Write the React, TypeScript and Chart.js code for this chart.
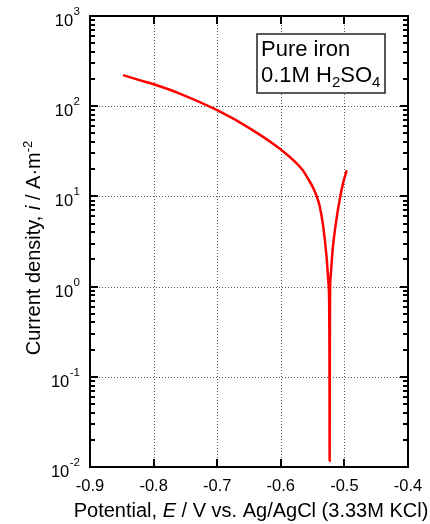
import React, { useEffect, useRef } from "react";
import { Chart, registerables } from "chart.js";

Chart.register(...registerables);

// ---- data ----
const potentialV = [
  -0.848, -0.825, -0.8, -0.76, -0.7, -0.65, -0.6, -0.575, -0.565, -0.557, -0.5495,
  -0.5435, -0.5385, -0.5336, -0.528, -0.5253, -0.524, -0.5235, -0.5232, -0.5229,
  -0.5226, -0.5216, -0.5184, -0.5135, -0.5065, -0.5016, -0.4964,
];
const currentDensity = [
  221, 197, 175, 139, 90.2, 57.5, 33.1, 23.2, 19.3, 15.6, 12.6,
  10, 7.6, 4.8, 2.12, 1.15, 0.7, 0.2, 0.0117, 0.2,
  0.8, 1.3, 2.6, 5.0, 10, 14.5, 19.4,
];
const xTickValues = [-0.9, -0.8, -0.7, -0.6, -0.5, -0.4];
const xTickLabels = ["-0.9", "-0.8", "-0.7", "-0.6", "-0.5", "-0.4"];
const yDecadeExponents = [-2, -1, 0, 1, 2, 3];
const yExponentLabels = ["-2", "-1", "0", "1", "2", "3"];
const legendLine1 = "Pure iron";
const legendLine2 = [
  { t: "0.1M H", sub: false },
  { t: "2", sub: true },
  { t: "SO", sub: false },
  { t: "4", sub: true },
];
const xTitle = [
  { t: "Potential, ", it: false },
  { t: "E", it: true },
  { t: " / V vs. Ag/AgCl (3.33M KCl)", it: false },
];
const yTitle = [
  { t: "Current density, ", it: false, sup: false },
  { t: "i", it: true, sup: false },
  { t: " / A\u00B7m", it: false, sup: false },
  { t: "-2", it: false, sup: true },
];

const FONT = '"Liberation Sans", Arial, sans-serif';

const framePlugin = {
  id: "frame",
  beforeDatasetsDraw(chart: any) {
    const { ctx, chartArea: a, scales } = chart;
    const x = scales.x;
    const y = scales.y;
    ctx.save();
    ctx.strokeStyle = "#555";
    ctx.lineWidth = 1;
    ctx.setLineDash([1, 2]);
    for (const v of xTickValues.slice(1, -1)) {
      const px = Math.round(x.getPixelForValue(v)) + 0.5;
      ctx.beginPath();
      ctx.moveTo(px, a.top);
      ctx.lineTo(px, a.bottom);
      ctx.stroke();
    }
    for (const e of yDecadeExponents.slice(1, -1)) {
      const py = Math.round(y.getPixelForValue(Math.pow(10, e))) + 0.5;
      ctx.beginPath();
      ctx.moveTo(a.left, py);
      ctx.lineTo(a.right, py);
      ctx.stroke();
    }
    ctx.restore();
  },
  afterDatasetsDraw(chart: any) {
    const { ctx, chartArea: a, scales } = chart;
    const x = scales.x;
    const y = scales.y;
    ctx.save();
    ctx.setLineDash([]);
    ctx.strokeStyle = "#000";
    // ticks
    ctx.lineWidth = 2;
    const major = 8;
    const minor = 5;
    for (const v of xTickValues) {
      const px = Math.round(x.getPixelForValue(v));
      ctx.beginPath();
      ctx.moveTo(px, a.bottom);
      ctx.lineTo(px, a.bottom - major);
      ctx.moveTo(px, a.top);
      ctx.lineTo(px, a.top + major);
      ctx.stroke();
    }
    for (let i = 0; i < yDecadeExponents.length; i++) {
      const e = yDecadeExponents[i];
      const py = Math.round(y.getPixelForValue(Math.pow(10, e)));
      ctx.beginPath();
      ctx.moveTo(a.left, py);
      ctx.lineTo(a.left + major, py);
      ctx.moveTo(a.right, py);
      ctx.lineTo(a.right - major, py);
      ctx.stroke();
      if (i < yDecadeExponents.length - 1) {
        for (let m = 2; m <= 9; m++) {
          const pm = Math.round(y.getPixelForValue(m * Math.pow(10, e)));
          ctx.beginPath();
          ctx.moveTo(a.left, pm);
          ctx.lineTo(a.left + minor, pm);
          ctx.moveTo(a.right, pm);
          ctx.lineTo(a.right - minor, pm);
          ctx.stroke();
        }
      }
    }
    // border
    ctx.lineWidth = 2;
    ctx.strokeRect(a.left, a.top, a.right - a.left, a.bottom - a.top);

    // tick labels
    ctx.fillStyle = "#000";
    ctx.textBaseline = "alphabetic";
    ctx.font = `16.5px ${FONT}`;
    ctx.textAlign = "center";
    xTickValues.forEach((v, i) => {
      ctx.fillText(xTickLabels[i], x.getPixelForValue(v), a.bottom + 24);
    });
    ctx.textAlign = "left";
    yDecadeExponents.forEach((e, i) => {
      const py = y.getPixelForValue(Math.pow(10, e));
      ctx.font = `16.5px ${FONT}`;
      const wBase = ctx.measureText("10").width;
      ctx.font = `11.5px ${FONT}`;
      const wExp = ctx.measureText(yExponentLabels[i]).width;
      const right = a.left - 10;
      const start = right - wExp - wBase - 0.5;
      ctx.font = `16.5px ${FONT}`;
      ctx.fillText("10", start, py + 10);
      ctx.font = `11.5px ${FONT}`;
      ctx.fillText(yExponentLabels[i], start + wBase + 0.5, py - 1);
    });

    // x title
    const xCenter = (a.left + a.right) / 2 + 2;
    let total = 0;
    for (const s of xTitle) {
      ctx.font = `${s.it ? "italic " : ""}20px ${FONT}`;
      total += ctx.measureText(s.t).width;
    }
    let cx = xCenter - total / 2;
    for (const s of xTitle) {
      ctx.font = `${s.it ? "italic " : ""}20px ${FONT}`;
      ctx.fillText(s.t, cx, 517);
      cx += ctx.measureText(s.t).width;
    }

    // y title (rotated)
    ctx.save();
    ctx.translate(40, 0);
    ctx.rotate(-Math.PI / 2);
    let ytotal = 0;
    for (const s of yTitle) {
      ctx.font = `${s.it ? "italic " : ""}${s.sup ? 13 : 20}px ${FONT}`;
      ytotal += ctx.measureText(s.t).width;
    }
    const yCenter = 248;
    let cy = -yCenter - ytotal / 2;
    for (const s of yTitle) {
      ctx.font = `${s.it ? "italic " : ""}${s.sup ? 13 : 20}px ${FONT}`;
      ctx.fillText(s.t, cy, s.sup ? -8 : 0);
      cy += ctx.measureText(s.t).width;
    }
    ctx.restore();

    // legend box
    ctx.fillStyle = "#fff";
    ctx.fillRect(257, 34, 128, 59);
    ctx.lineWidth = 1.5;
    ctx.strokeStyle = "#222";
    ctx.strokeRect(257, 34, 128, 59);
    ctx.fillStyle = "#000";
    ctx.font = `22px ${FONT}`;
    ctx.fillText(legendLine1, 261, 56);
    let lx = 261;
    for (const s of legendLine2) {
      ctx.font = `${s.sub ? 15 : 22}px ${FONT}`;
      ctx.fillText(s.t, lx, s.sub ? 87 : 82);
      lx += ctx.measureText(s.t).width;
    }
    ctx.restore();
  },
};

export default function App() {
  const canvasRef = useRef<HTMLCanvasElement | null>(null);
  useEffect(() => {
    const canvas = canvasRef.current;
    if (!canvas) return;
    const chart = new Chart(canvas, {
      type: "line",
      data: {
        datasets: [
          {
            data: potentialV.map((v, i) => ({ x: v, y: currentDensity[i] })),
            borderColor: "#ff0000",
            borderWidth: 2.5,
            pointRadius: 0,
            fill: false,
            cubicInterpolationMode: "monotone",
          },
        ],
      },
      options: {
        animation: false,
        responsive: false,
        devicePixelRatio: 1,
        layout: { padding: { left: 90, top: 16, right: 22, bottom: 57 } },
        plugins: { legend: { display: false }, tooltip: { enabled: false } },
        scales: {
          x: { type: "linear", min: -0.9, max: -0.4, display: false },
          y: { type: "logarithmic", min: 0.01, max: 1000, display: false },
        },
      },
      plugins: [framePlugin],
    } as any);
    return () => chart.destroy();
  }, []);
  return (
    <div style={{ position: "absolute", left: 0, top: 0, width: 430, height: 524, background: "#fff" }}>
      <canvas ref={canvasRef} width={430} height={524} style={{ display: "block" }} />
    </div>
  );
}
